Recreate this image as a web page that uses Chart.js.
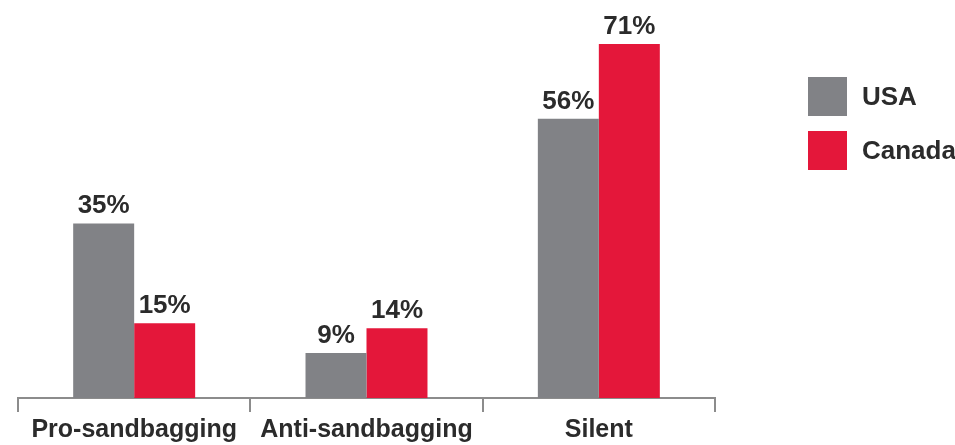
<!DOCTYPE html>
<html>
<head>
<meta charset="utf-8">
<script src="https://cdn.jsdelivr.net/npm/chart.js@4"></script>
<style>
  html, body { margin: 0; padding: 0; background: #fff; }
  #wrap { position: relative; width: 955px; height: 445px; }
  #legend { position: absolute; left: 808px; top: 77px; font-family: "Liberation Sans", Arial, sans-serif; font-weight: 700; font-size: 26px; color: #2b2b2b; }
  .lg-item { display: flex; align-items: center; height: 39px; margin-bottom: 15px; }
  .lg-box { width: 39px; height: 39px; margin-right: 15px; }
</style>
</head>
<body>
<div id="wrap">
  <canvas id="chart"></canvas>
  <div id="legend"></div>
</div>
<script>
  // ─── Data ──────────────────────────────────────────────
  var categories = ['Pro-sandbagging', 'Anti-sandbagging', 'Silent'];
  var seriesNames = ['USA', 'Canada'];
  var usaValues = [35, 9, 56];
  var canadaValues = [15, 14, 71];
  var seriesColors = ['#818286', '#E4173A'];

  var textColor = '#2b2b2b';
  var axisColor = '#8c8c8c';
  var fontFamily = '"Liberation Sans", Arial, sans-serif';

  // ─── Value labels above bars ───────────────────────────
  var valueLabels = {
    id: 'valueLabels',
    afterDatasetsDraw: function (chart) {
      var ctx = chart.ctx;
      ctx.save();
      ctx.font = '700 26px ' + fontFamily;
      ctx.fillStyle = textColor;
      ctx.textAlign = 'center';
      ctx.textBaseline = 'alphabetic';
      chart.data.datasets.forEach(function (ds, i) {
        chart.getDatasetMeta(i).data.forEach(function (bar, j) {
          ctx.fillText(ds.data[j] + '%', bar.x, bar.y - 10);
        });
      });
      ctx.restore();
    }
  };

  var chart = new Chart(document.getElementById('chart'), {
    type: 'bar',
    data: {
      labels: categories,
      datasets: [
        { label: seriesNames[0], data: usaValues, backgroundColor: seriesColors[0] },
        { label: seriesNames[1], data: canadaValues, backgroundColor: seriesColors[1] }
      ]
    },
    options: {
      responsive: true,
      maintainAspectRatio: false,
      animation: false,
      layout: { padding: { top: 4, left: 18, right: 240, bottom: -3 } },
      datasets: { bar: { barPercentage: 1, categoryPercentage: 0.525 } },
      plugins: {
        legend: { display: false },
        tooltip: { enabled: false }
      },
      scales: {
        y: { display: false, min: 0, max: 79 },
        x: {
          border: { display: true, color: axisColor, width: 2 },
          grid: {
            display: true,
            offset: true,
            drawOnChartArea: false,
            drawTicks: true,
            tickLength: 14,
            color: axisColor,
            lineWidth: 2
          },
          ticks: {
            color: textColor,
            padding: 3,
            font: { family: fontFamily, size: 25, weight: '700' }
          }
        }
      }
    },
    plugins: [valueLabels]
  });

  // ─── Legend ────────────────────────────────────────────
  document.getElementById('legend').innerHTML = seriesNames.map(function (name, i) {
    return '<div class="lg-item"><span class="lg-box" style="background:' + seriesColors[i] + '"></span>' + name + '</div>';
  }).join('');
</script>
</body>
</html>
